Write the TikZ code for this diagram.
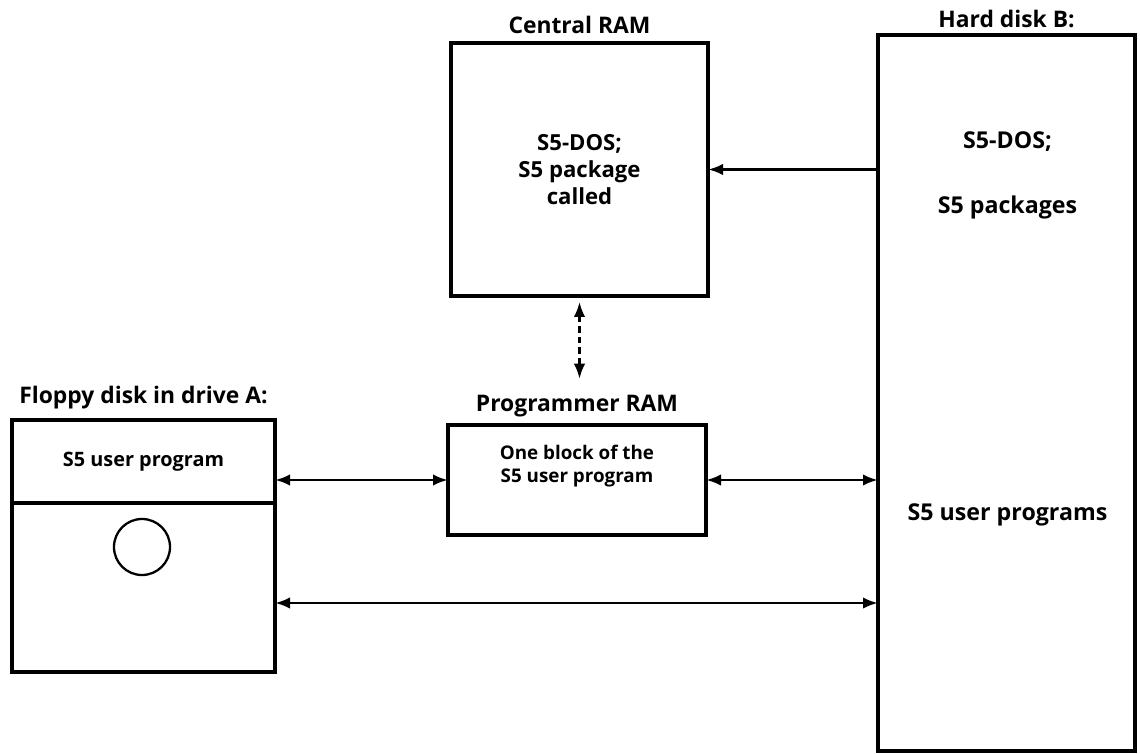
\documentclass[tikz,border=0pt]{standalone}
\usepackage{fontspec}
\setmainfont{Open Sans}
\usetikzlibrary{arrows.meta, positioning}
\tikzstyle{box} = [rectangle, draw=black, line width=2.1pt, inner sep=0pt, outer sep=0pt]
\tikzstyle{heading} = [font=\bfseries\fontsize{13}{15}\selectfont]
\tikzstyle{txt} = [font=\bfseries\fontsize{12.6}{15.5}\selectfont, align=center]
\tikzstyle{hdtxt} = [font=\bfseries\fontsize{13.2}{15.5}\selectfont, align=center]
\tikzstyle{floppytxt} = [font=\bfseries\fontsize{11.3}{14}\selectfont, align=center]
\tikzstyle{smalltxt} = [font=\bfseries\fontsize{10.7}{13}\selectfont, align=center]
\tikzstyle{arrow} = [line width=1.6pt, -{Latex[length=3mm,width=2.3mm]}]
\tikzstyle{dblarrow} = [line width=1.6pt, {Latex[length=3mm,width=2.3mm]}-{Latex[length=3mm,width=2.3mm]}]
\tikzstyle{dashedarrow} = [dblarrow, line width=1.3pt, dash pattern=on 3.5pt off 2.5pt]

\begin{document}
\begin{tikzpicture}
    \useasboundingbox (0,0) rectangle (22.8,15.06);

    % boxes
    \node (central_ram) [box, txt, minimum width=5.14cm, minimum height=5.06cm] at (11.59,11.67) {S5-DOS;\\S5 package\\called};
    \node (hard_disk) [box, minimum width=5.14cm, minimum height=14.32cm] at (20.13,7.2) {};
    \node (prog_ram) [box, minimum width=5.16cm, minimum height=2.2cm] at (11.54,5.46) {};
    \node (floppy_top) [box, floppytxt, minimum width=5.26cm, minimum height=1.66cm] at (2.87,5.83) {S5 user program};
    \node (floppy_bottom) [box, minimum width=5.26cm, minimum height=3.38cm, below=0pt of floppy_top] {};
    \node (disk_hole) [circle, draw, line width=1.3pt, minimum size=1.12cm] at (2.84,4.12) {};

    % headings
    \node (central_label) [heading, above=0.06cm of central_ram] {Central RAM};
    \node (hard_label) [heading, above=0.01cm of hard_disk] {Hard disk B:};
    \node (prog_label) [heading, above=0.04cm of prog_ram] {Programmer RAM};
    \node (floppy_label) [heading, above=0.1cm of floppy_top] {Floppy disk in drive A:};

    % texts
    \node (hd_dos) [hdtxt] at (20.15,12.22) {S5-DOS;};
    \node (hd_packages) [hdtxt] at (20.15,10.92) {S5 packages};
    \node (hd_user) [hdtxt] at (20.15,4.76) {S5 user programs};
    \node (prog_text) [smalltxt, yshift=0.28cm] at (prog_ram.center) {One block of the\\S5 user program};

    % connectors
    \draw [arrow] (hard_disk.west |- central_ram.east) -- (central_ram.east);
    \draw [dashedarrow, shorten <=0.12cm, shorten >=0.2cm] (central_ram.south) -- (central_ram.south |- prog_label.north);
    \draw [dblarrow] (floppy_top.east |- prog_ram.west) -- (prog_ram.west);
    \draw [dblarrow] (prog_ram.east) -- (prog_ram.east -| hard_disk.west);
    \draw [dblarrow] ([yshift=-0.31cm]floppy_bottom.east) -- ([yshift=-0.31cm]floppy_bottom.east -| hard_disk.west);

\end{tikzpicture}
\end{document}
